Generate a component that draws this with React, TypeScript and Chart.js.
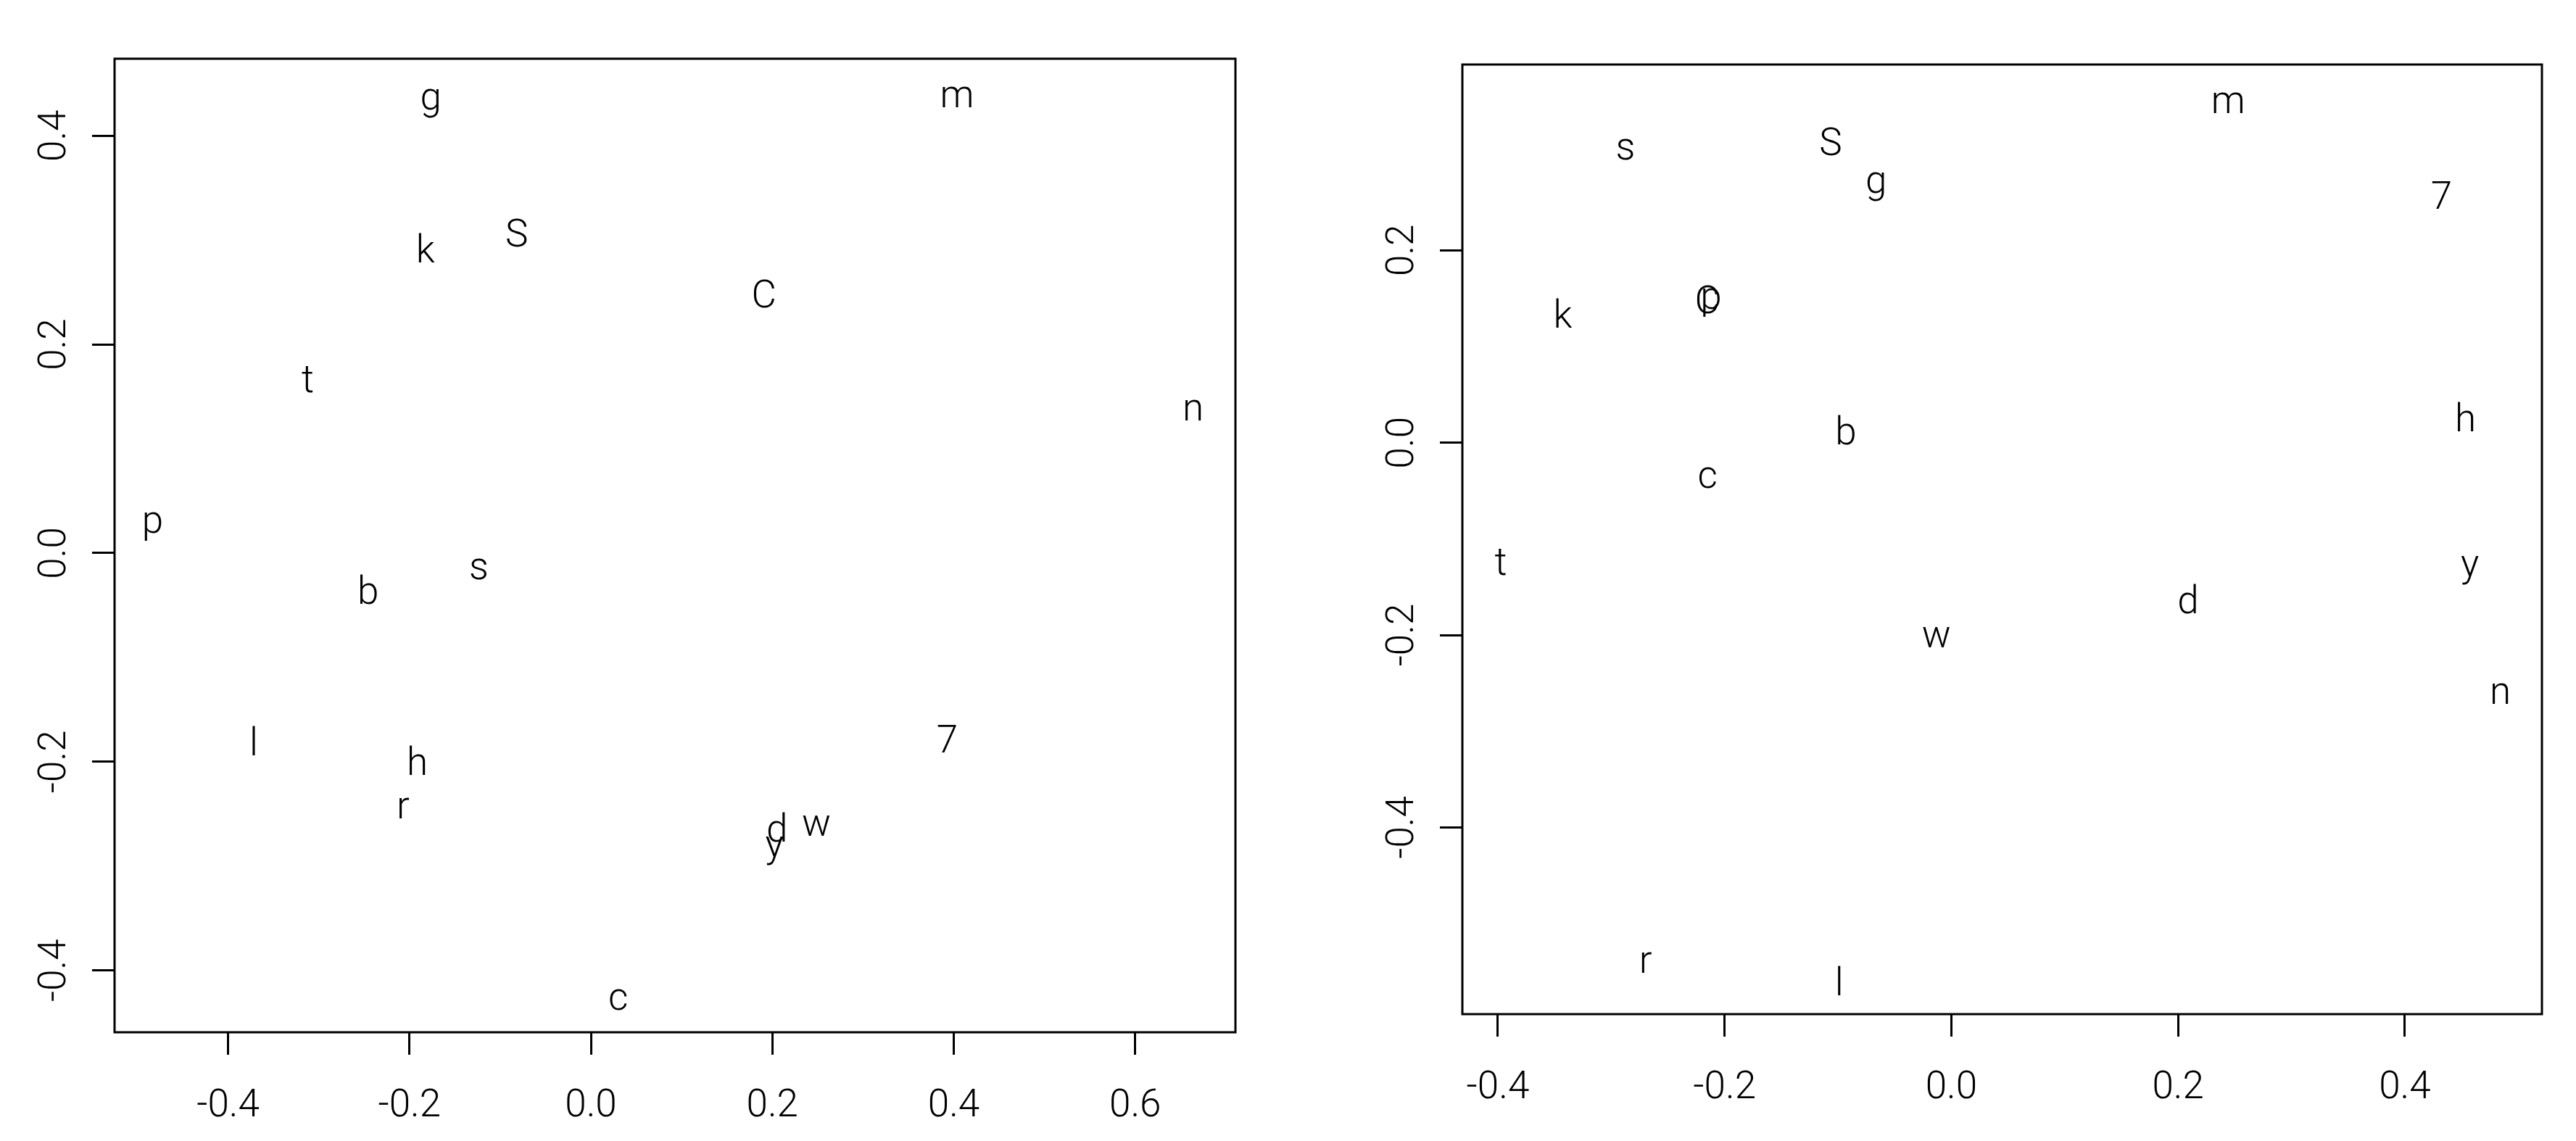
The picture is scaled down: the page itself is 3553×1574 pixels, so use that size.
import React, { useEffect, useRef } from "react";
import { Chart, registerables } from "chart.js";

Chart.register(...registerables);

// ---------- data: left panel ----------
const leftLabels = ["g", "m", "S", "k", "C", "t", "n", "p", "s", "b", "l", "h", "r", "7", "d", "w", "y", "c"];
const leftX = [-0.177, 0.4036, -0.0815, -0.1808, 0.191, -0.3125, 0.6641, -0.4825, -0.1239, -0.2449, -0.3716, -0.191, -0.2054, 0.3927, 0.2046, 0.2485, 0.2022, 0.0304];
const leftY = [0.4312, 0.437, 0.3068, 0.293, 0.249, 0.1667, 0.1375, 0.0256, -0.015, -0.0348, -0.1797, -0.1984, -0.2444, -0.1776, -0.2627, -0.2613, -0.2856, -0.4278];
const leftXTicks = [-0.4, -0.2, 0.0, 0.2, 0.4, 0.6];
const leftYTicks = [-0.4, -0.2, 0.0, 0.2, 0.4];
const leftXRange = [-0.5251, 0.7105];
const leftYRange = [-0.4593, 0.4738];

// ---------- data: right panel ----------
const rightLabels = ["m", "s", "S", "g", "7", "k", "C", "p", "h", "b", "c", "t", "y", "d", "w", "n", "r", "l"];
const rightX = [0.2442, -0.2877, -0.1062, -0.0668, 0.4322, -0.3414, -0.2152, -0.2115, 0.4537, -0.0925, -0.2148, -0.3978, 0.4572, 0.2084, -0.0132, 0.4844, -0.2684, -0.099];
const rightY = [0.3535, 0.305, 0.3131, 0.2662, 0.2574, 0.1347, 0.1487, 0.1462, 0.0272, 0.0134, -0.0366, -0.1242, -0.1326, -0.162, -0.2024, -0.2608, -0.5405, -0.5592];
const rightXTicks = [-0.4, -0.2, 0.0, 0.2, 0.4];
const rightYTicks = [-0.4, -0.2, 0.0, 0.2];
const rightXRange = [-0.4313, 0.5209];
const rightYRange = [-0.5941, 0.3931];

const FAMILY = "Roboto, 'Liberation Sans', Arial, sans-serif";
const SIZE = 53;
const WEIGHT = "300";
const FONT = `${WEIGHT} ${SIZE}px ${FAMILY}`;
const fmt = (v: number) => Number(v).toFixed(1);

type Area = { canvasW: number; canvasH: number; left: number; right: number; top: number; bottom: number };

const boxPlugin = {
  id: "rbox",
  afterDraw(chart: any) {
    const { ctx, chartArea } = chart;
    ctx.save();
    ctx.strokeStyle = "#000";
    ctx.lineWidth = 3;
    ctx.strokeRect(chartArea.left, chartArea.top, chartArea.right - chartArea.left, chartArea.bottom - chartArea.top);
    ctx.restore();
  },
};

const yLabelPlugin = {
  id: "ryLabels",
  afterDraw(chart: any) {
    const { ctx, chartArea } = chart;
    const ys = chart.scales.y;
    const off = chart.options.plugins.ryLabels.offset;
    ctx.save();
    ctx.font = FONT;
    ctx.fillStyle = "#000";
    ctx.textAlign = "center";
    ctx.textBaseline = "alphabetic";
    for (const t of ys.ticks) {
      const py = ys.getPixelForValue(t.value);
      ctx.save();
      ctx.translate(chartArea.left - off, py);
      ctx.rotate(-Math.PI / 2);
      ctx.fillText(fmt(t.value), 0, 0);
      ctx.restore();
    }
    ctx.restore();
  },
};

const textMarkPlugin = {
  id: "rtext",
  afterDatasetsDraw(chart: any) {
    const { ctx } = chart;
    const labels: string[] = chart.options.plugins.rtext.labels;
    const meta = chart.getDatasetMeta(0);
    ctx.save();
    ctx.font = FONT;
    ctx.fillStyle = "#000";
    ctx.textAlign = "left";
    ctx.textBaseline = "alphabetic";
    meta.data.forEach((el: any, i: number) => {
      const s = labels[i];
      const m = ctx.measureText(s);
      const x = el.x - (m.actualBoundingBoxRight - m.actualBoundingBoxLeft) / 2;
      const y = el.y + (m.actualBoundingBoxAscent - m.actualBoundingBoxDescent) / 2;
      ctx.fillText(s, x, y);
    });
    ctx.restore();
  },
};

function makeConfig(
  labels: string[], xs: number[], ys: number[],
  xTicks: number[], yTicks: number[], xRange: number[], yRange: number[], a: Area
): any {
  const grid = {
    display: true,
    drawOnChartArea: false,
    drawTicks: true,
    tickLength: 31,
    tickWidth: 3,
    lineWidth: 3,
    tickColor: "#000",
    color: "#000",
  };
  return {
    type: "scatter",
    data: {
      datasets: [
        {
          data: xs.map((x, i) => ({ x, y: ys[i] })),
          pointRadius: 0,
          pointHoverRadius: 0,
          showLine: false,
        },
      ],
    },
    options: {
      animation: false,
      responsive: false,
      maintainAspectRatio: false,
      events: [],
      layout: { padding: { left: 0, right: a.canvasW - a.right, top: a.top, bottom: 0 } },
      plugins: {
        legend: { display: false },
        tooltip: { enabled: false },
        rtext: { labels },
        ryLabels: { offset: 68 },
      },
      scales: {
        x: {
          type: "linear",
          position: "bottom",
          min: xRange[0],
          max: xRange[1],
          afterBuildTicks: (s: any) => { s.ticks = xTicks.map((v) => ({ value: v })); },
          afterFit: (s: any) => { s.height = a.canvasH - a.bottom; },
          grid,
          border: { display: false },
          ticks: {
            display: true,
            autoSkip: false,
            maxRotation: 0,
            minRotation: 0,
            padding: 40,
            color: "#000",
            font: { family: FAMILY, size: SIZE, weight: WEIGHT },
            callback: (v: any) => fmt(Number(v)),
          },
        },
        y: {
          type: "linear",
          position: "left",
          min: yRange[0],
          max: yRange[1],
          afterBuildTicks: (s: any) => { s.ticks = yTicks.map((v) => ({ value: v })); },
          afterFit: (s: any) => { s.width = a.left; },
          grid,
          border: { display: false },
          ticks: { display: false, callback: (v: any) => fmt(Number(v)) },
        },
      },
    },
    plugins: [textMarkPlugin, yLabelPlugin, boxPlugin],
  };
}

function Panel(props: {
  x0: number; area: Area; labels: string[]; xs: number[]; ys: number[];
  xTicks: number[]; yTicks: number[]; xRange: number[]; yRange: number[];
}) {
  const ref = useRef<HTMLCanvasElement | null>(null);
  useEffect(() => {
    const c = ref.current;
    if (!c) return;
    const chart = new Chart(c, makeConfig(props.labels, props.xs, props.ys, props.xTicks, props.yTicks, props.xRange, props.yRange, props.area));
    return () => chart.destroy();
  }, []);
  return (
    <canvas
      ref={ref}
      width={props.area.canvasW}
      height={props.area.canvasH}
      style={{ position: "absolute", left: props.x0, top: 0, width: props.area.canvasW, height: props.area.canvasH }}
    />
  );
}

export default function App() {
  const leftArea: Area = { canvasW: 1777, canvasH: 1574, left: 158, right: 1704, top: 81, bottom: 1424 };
  const rightArea: Area = { canvasW: 1776, canvasH: 1574, left: 2017 - 1777, right: 3506 - 1777, top: 89, bottom: 1399 };
  return (
    <div style={{ position: "absolute", left: 0, top: 0, width: 3553, height: 1574, background: "#fff", overflow: "hidden" }}>
      <Panel x0={0} area={leftArea} labels={leftLabels} xs={leftX} ys={leftY}
        xTicks={leftXTicks} yTicks={leftYTicks} xRange={leftXRange} yRange={leftYRange} />
      <Panel x0={1777} area={rightArea} labels={rightLabels} xs={rightX} ys={rightY}
        xTicks={rightXTicks} yTicks={rightYTicks} xRange={rightXRange} yRange={rightYRange} />
    </div>
  );
}
